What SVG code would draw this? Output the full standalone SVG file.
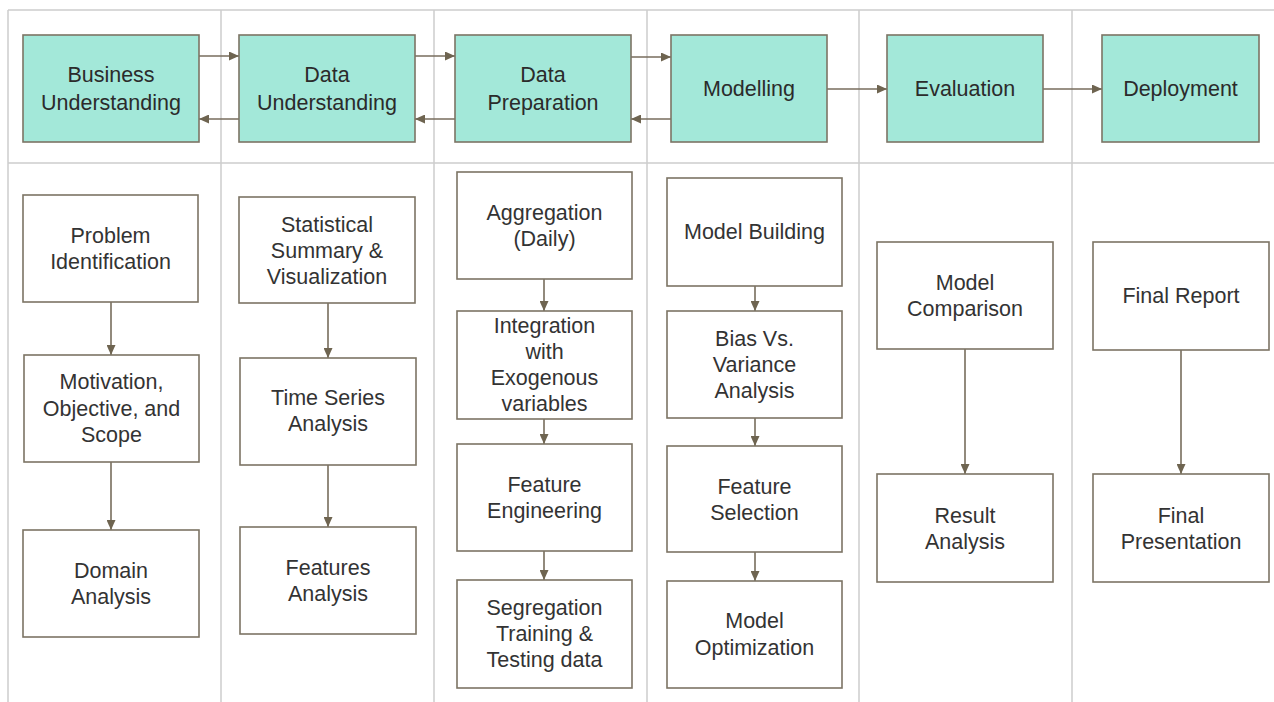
<svg xmlns="http://www.w3.org/2000/svg" width="1274" height="702" viewBox="0 0 1274 702">
  <style>
    .grid { stroke: #cccccc; stroke-width: 1.5; fill: none; }
    .phase { fill: #a3e8d9; stroke: #7c7464; stroke-width: 1.6; }
    .step { fill: #ffffff; stroke: #7c7464; stroke-width: 1.6; }
    .lbl { font-family: "Liberation Sans", Arial, sans-serif; font-size: 21.5px; fill: #333333; text-anchor: middle; }
    .hdr { fill: #2b2b2b; }
    .conn { stroke: #776d5c; stroke-width: 1.6; fill: none; marker-end: url(#arrow); }
  </style>
  <defs>
    <marker id="arrow" viewBox="0 0 10 10" refX="10" refY="5" markerWidth="10" markerHeight="9" markerUnits="userSpaceOnUse" orient="auto" preserveAspectRatio="none">
      <path d="M0,0 L10,5 L0,10 Z" fill="#6e6450"/>
    </marker>
  </defs>
  <rect width="1274" height="702" fill="#ffffff"/>

  <!-- swimlane grid -->
  <g id="grid">
    <line class="grid" x1="8" y1="10" x2="1274" y2="10"/>
    <line class="grid" x1="8" y1="163" x2="1274" y2="163"/>
    <line class="grid" x1="8" y1="10" x2="8" y2="702"/>
    <line class="grid" x1="221" y1="10" x2="221" y2="702"/>
    <line class="grid" x1="434" y1="10" x2="434" y2="702"/>
    <line class="grid" x1="647" y1="10" x2="647" y2="702"/>
    <line class="grid" x1="859" y1="10" x2="859" y2="702"/>
    <line class="grid" x1="1072" y1="10" x2="1072" y2="702"/>
  </g>

  <!-- connectors -->
  <g id="connectors">
    <line class="conn" x1="199" y1="56" x2="239" y2="56"/>
    <line class="conn" x1="239" y1="119" x2="199" y2="119"/>
    <line class="conn" x1="415" y1="56" x2="455" y2="56"/>
    <line class="conn" x1="455" y1="119" x2="415" y2="119"/>
    <line class="conn" x1="631" y1="57" x2="671" y2="57"/>
    <line class="conn" x1="671" y1="119" x2="631" y2="119"/>
    <line class="conn" x1="827" y1="89" x2="887" y2="89"/>
    <line class="conn" x1="1043" y1="89" x2="1102" y2="89"/>

    <line class="conn" x1="111" y1="302" x2="111" y2="355"/>
    <line class="conn" x1="111" y1="462" x2="111" y2="530"/>
    <line class="conn" x1="328" y1="303" x2="328" y2="358"/>
    <line class="conn" x1="328" y1="465" x2="328" y2="527"/>
    <line class="conn" x1="544" y1="279" x2="544" y2="311"/>
    <line class="conn" x1="544" y1="419" x2="544" y2="444"/>
    <line class="conn" x1="544" y1="551" x2="544" y2="580"/>
    <line class="conn" x1="755" y1="286" x2="755" y2="311"/>
    <line class="conn" x1="755" y1="418" x2="755" y2="446"/>
    <line class="conn" x1="755" y1="552" x2="755" y2="581"/>
    <line class="conn" x1="965" y1="349" x2="965" y2="474"/>
    <line class="conn" x1="1181" y1="350" x2="1181" y2="474"/>
  </g>

  <!-- phase headers -->
  <g id="business-understanding">
    <rect class="phase" x="23" y="35" width="176" height="107"/>
    <text class="lbl hdr" x="111" y="82">Business</text>
    <text class="lbl hdr" x="111" y="110">Understanding</text>
  </g>
  <g id="data-understanding">
    <rect class="phase" x="239" y="35" width="176" height="107"/>
    <text class="lbl hdr" x="327" y="82">Data</text>
    <text class="lbl hdr" x="327" y="110">Understanding</text>
  </g>
  <g id="data-preparation">
    <rect class="phase" x="455" y="35" width="176" height="107"/>
    <text class="lbl hdr" x="543" y="82">Data</text>
    <text class="lbl hdr" x="543" y="110">Preparation</text>
  </g>
  <g id="modelling">
    <rect class="phase" x="671" y="35" width="156" height="107"/>
    <text class="lbl hdr" x="749" y="96">Modelling</text>
  </g>
  <g id="evaluation">
    <rect class="phase" x="887" y="35" width="156" height="107"/>
    <text class="lbl hdr" x="965" y="96">Evaluation</text>
  </g>
  <g id="deployment">
    <rect class="phase" x="1102" y="35" width="157" height="107"/>
    <text class="lbl hdr" x="1180.5" y="96">Deployment</text>
  </g>

  <!-- business understanding steps -->
  <g id="problem-identification">
    <rect class="step" x="23" y="195" width="175" height="107"/>
    <text class="lbl" x="110.5" y="243">Problem</text>
    <text class="lbl" x="110.5" y="269">Identification</text>
  </g>
  <g id="motivation">
    <rect class="step" x="24" y="355" width="175" height="107"/>
    <text class="lbl" x="111.5" y="389">Motivation,</text>
    <text class="lbl" x="111.5" y="416">Objective, and</text>
    <text class="lbl" x="111.5" y="442">Scope</text>
  </g>
  <g id="domain-analysis">
    <rect class="step" x="23" y="530" width="176" height="107"/>
    <text class="lbl" x="111" y="578">Domain</text>
    <text class="lbl" x="111" y="604">Analysis</text>
  </g>

  <!-- data understanding steps -->
  <g id="statistical-summary">
    <rect class="step" x="239" y="197" width="176" height="106"/>
    <text class="lbl" x="327" y="232">Statistical</text>
    <text class="lbl" x="327" y="258">Summary &amp;</text>
    <text class="lbl" x="327" y="284">Visualization</text>
  </g>
  <g id="time-series-analysis">
    <rect class="step" x="240" y="358" width="176" height="107"/>
    <text class="lbl" x="328" y="405">Time Series</text>
    <text class="lbl" x="328" y="431">Analysis</text>
  </g>
  <g id="features-analysis">
    <rect class="step" x="240" y="527" width="176" height="107"/>
    <text class="lbl" x="328" y="575">Features</text>
    <text class="lbl" x="328" y="601">Analysis</text>
  </g>

  <!-- data preparation steps -->
  <g id="aggregation">
    <rect class="step" x="457" y="172" width="175" height="107"/>
    <text class="lbl" x="544.5" y="220">Aggregation</text>
    <text class="lbl" x="544.5" y="246">(Daily)</text>
  </g>
  <g id="integration">
    <rect class="step" x="457" y="311" width="175" height="108"/>
    <text class="lbl" x="544.5" y="333">Integration</text>
    <text class="lbl" x="544.5" y="359">with</text>
    <text class="lbl" x="544.5" y="385">Exogenous</text>
    <text class="lbl" x="544.5" y="411">variables</text>
  </g>
  <g id="feature-engineering">
    <rect class="step" x="457" y="444" width="175" height="107"/>
    <text class="lbl" x="544.5" y="492">Feature</text>
    <text class="lbl" x="544.5" y="518">Engineering</text>
  </g>
  <g id="segregation">
    <rect class="step" x="457" y="580" width="175" height="108"/>
    <text class="lbl" x="544.5" y="615">Segregation</text>
    <text class="lbl" x="544.5" y="641">Training &amp;</text>
    <text class="lbl" x="544.5" y="667">Testing data</text>
  </g>

  <!-- modelling steps -->
  <g id="model-building">
    <rect class="step" x="667" y="178" width="175" height="108"/>
    <text class="lbl" x="754.5" y="239">Model Building</text>
  </g>
  <g id="bias-variance">
    <rect class="step" x="667" y="311" width="175" height="107"/>
    <text class="lbl" x="754.5" y="346">Bias Vs.</text>
    <text class="lbl" x="754.5" y="372">Variance</text>
    <text class="lbl" x="754.5" y="398">Analysis</text>
  </g>
  <g id="feature-selection">
    <rect class="step" x="667" y="446" width="175" height="106"/>
    <text class="lbl" x="754.5" y="494">Feature</text>
    <text class="lbl" x="754.5" y="520">Selection</text>
  </g>
  <g id="model-optimization">
    <rect class="step" x="667" y="581" width="175" height="107"/>
    <text class="lbl" x="754.5" y="628">Model</text>
    <text class="lbl" x="754.5" y="655">Optimization</text>
  </g>

  <!-- evaluation steps -->
  <g id="model-comparison">
    <rect class="step" x="877" y="242" width="176" height="107"/>
    <text class="lbl" x="965" y="290">Model</text>
    <text class="lbl" x="965" y="316">Comparison</text>
  </g>
  <g id="result-analysis">
    <rect class="step" x="877" y="474" width="176" height="108"/>
    <text class="lbl" x="965" y="523">Result</text>
    <text class="lbl" x="965" y="549">Analysis</text>
  </g>

  <!-- deployment steps -->
  <g id="final-report">
    <rect class="step" x="1093" y="242" width="176" height="108"/>
    <text class="lbl" x="1181" y="303">Final Report</text>
  </g>
  <g id="final-presentation">
    <rect class="step" x="1093" y="474" width="176" height="108"/>
    <text class="lbl" x="1181" y="523">Final</text>
    <text class="lbl" x="1181" y="549">Presentation</text>
  </g>
</svg>
